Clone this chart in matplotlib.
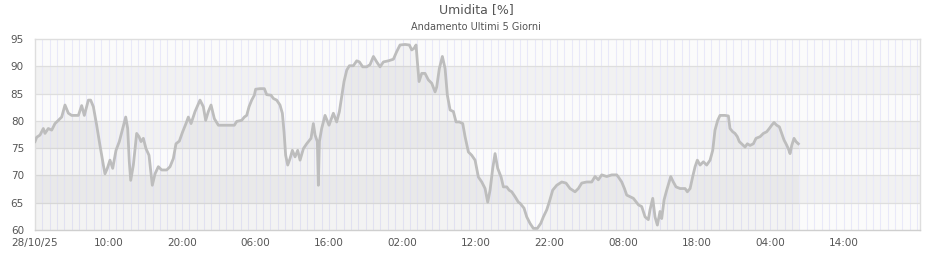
"""
Umidita [%] - andamento ultimi 5 giorni
"""

import numpy as np
import matplotlib.pyplot as plt

# hours since 28/10/25 00:00 and humidity readings
hours = [0, 0.23, 0.68, 1.13, 1.36, 1.81, 2.27, 2.72, 3.17, 3.63, 4.08, 4.54, 4.99, 5.9,
         6.35, 6.71, 7.26, 7.57, 7.94, 8.39, 8.84, 9.3, 9.52, 9.84, 10.2, 10.57, 11.02,
         11.47, 11.93, 12.34, 12.61, 12.83, 13.02, 13.38, 13.83, 14.15, 14.42, 14.74,
         15.1, 15.51, 15.96, 16.33, 16.78, 17.23, 17.91, 18.37, 18.82, 19.18, 19.64,
         20.09, 20.54, 20.86, 21.23, 21.77, 22.45, 22.9, 23.22, 23.58, 23.95, 24.4,
         24.95, 26.08, 27.12, 27.44, 28.12, 28.48, 28.8, 29.12, 29.48, 29.84, 30.02,
         30.61, 31.2, 31.52, 32.11, 32.43, 32.88, 33.33, 33.65, 33.88, 34.1, 34.38,
         34.7, 35.01, 35.38, 35.74, 36.06, 36.51, 36.96, 37.55, 37.87, 38.1, 38.41,
         38.55, 38.69, 39.0, 39.46, 40.0, 40.59, 41.04, 41.41, 41.72, 42.04, 42.41,
         42.77, 43.31, 43.77, 44.13, 44.58, 45.13, 45.58, 46.04, 46.49, 46.94, 47.4,
         48.08, 48.76, 49.21, 49.66, 50.34, 50.93, 51.25, 51.57, 51.84, 52.02, 52.25,
         52.61, 53.06, 53.52, 53.97, 54.43, 54.65, 55.01, 55.42, 55.79, 56.1, 56.47,
         56.92, 57.28, 57.74, 58.19, 58.51, 58.96, 59.41, 59.87, 60.32, 60.78, 61.23,
         61.59, 61.91, 62.27, 62.59, 62.95, 63.41, 63.72, 64.18, 64.5, 64.86, 65.31,
         65.76, 65.99, 66.53, 66.9, 67.35, 67.8, 68.34, 68.8, 69.16, 69.62, 69.98,
         70.43, 70.98, 71.66, 72.24, 72.79, 73.47, 73.92, 74.38, 75.06, 75.74, 76.19,
         76.64, 77.1, 77.78, 78.46, 79.14, 79.37, 79.82, 80.19, 80.5, 80.96, 81.41,
         82.1, 82.54, 83.0, 83.44, 83.67, 84.04, 84.35, 84.67, 85.03, 85.26, 85.58,
         85.94, 86.49, 86.84, 87.21, 87.76, 88.44, 88.75, 89.12, 89.48, 89.8, 90.11,
         90.48, 90.93, 91.38, 91.84, 92.2, 92.51, 92.88, 93.19, 93.87, 94.33, 94.55,
         94.92, 95.23, 95.55, 95.82, 96.14, 96.6, 96.91, 97.28, 97.73, 98.09, 98.64,
         99.09, 99.54, 99.9, 100.22, 100.54, 100.9, 101.27, 101.58, 101.9, 102.17,
         102.49, 102.72, 102.95, 103.26, 103.53, 103.85]
umidita = [76.2, 77.0, 77.4, 78.6, 77.7, 78.6, 78.3, 79.5, 80.1, 80.7, 82.9, 81.4, 81.0, 81.0,
           82.8, 81.0, 83.8, 83.8, 82.6, 79.2, 75.5, 71.9, 70.3, 71.3, 72.8, 71.3, 74.6,
           76.2, 78.6, 80.7, 78.6, 72.5, 69.1, 71.9, 77.7, 77.1, 76.2, 76.8,
           74.9, 73.7, 68.2, 70.3, 71.6, 71.0, 71.0, 71.6, 73.1, 75.8, 76.3,
           78.0, 79.5, 80.7, 79.5, 81.7, 83.8, 82.6, 80.1, 81.7, 82.9, 80.4,
           79.2, 79.2, 79.2, 79.9, 80.1, 80.7, 81.0, 82.6, 83.8, 84.7, 85.8,
           85.9, 85.9, 84.8, 84.7, 84.1, 83.8, 82.9, 81.4, 78.0, 73.7, 71.9,
           73.1, 74.6, 73.4, 74.6, 72.8, 74.9, 75.8, 76.8, 79.5, 77.4, 76.2,
           68.2, 76.2, 78.6, 81.0, 79.2, 81.4, 79.8, 81.7, 84.4, 87.2, 89.3,
           90.1, 90.1, 91.0, 90.8, 89.9, 89.9, 90.3, 91.8, 90.8, 89.9, 90.8,
           91.0, 91.3, 92.7, 93.9, 94.0, 93.9, 93.0, 93.3, 93.9, 90.8, 87.2,
           88.7, 88.7, 87.5, 86.9, 85.3, 86.2, 89.6, 91.8, 89.6, 84.7, 82.0,
           81.7, 79.8, 79.8, 79.5, 77.1, 74.3, 73.7, 72.8, 69.7, 68.8, 67.6,
           65.1, 67.3, 71.3, 74.0, 71.3, 69.7, 67.9, 67.9, 67.3, 67.0, 66.1,
           65.1, 64.9, 64.0, 62.4, 61.2, 60.3, 60.3, 61.2, 62.4, 63.7, 65.2,
           67.3, 68.2, 68.8, 68.6, 67.6, 67.0, 67.6, 68.6, 68.8, 68.8, 69.8,
           69.2, 70.1, 69.8, 70.1, 70.1, 69.7, 68.8, 67.6, 66.4, 66.1, 65.8,
           64.6, 64.3, 62.4, 61.9, 63.7, 65.8, 62.4, 60.9, 63.4, 62.1, 65.5,
           67.3, 69.8, 68.8, 67.9, 67.6, 67.6, 67.0, 67.6, 69.8, 71.6, 72.8,
           71.9, 72.5, 71.9, 72.8, 74.6, 78.3, 80.1, 81.0, 81.0, 80.9, 78.6,
           78.0, 77.7, 77.1, 76.2, 75.8, 75.2, 75.8, 75.5, 75.8, 76.8, 77.1,
           77.7, 78.0, 78.6, 79.2, 79.7, 79.2, 78.9, 77.7, 76.5, 75.8,
           74.9, 74.0, 75.5, 76.8, 76.2, 75.8]

xticks = [0, 10, 20, 30, 40, 50, 60, 70, 80, 90, 100, 110]
xlabels = ["28/10/25", "10:00", "20:00", "06:00", "16:00", "02:00", "12:00",
           "22:00", "08:00", "18:00", "04:00", "14:00"]
yticks = [60, 65, 70, 75, 80, 85, 90, 95]

fig = plt.figure(figsize=(9.4, 2.6), dpi=100)
ax = fig.add_axes([35 / 940, 1 - 230 / 260, 885 / 940, 191 / 260])

ax.set_xlim(0, 120.4)
ax.set_ylim(60, 95)

# alternating bands
for i, lo in enumerate(yticks[:-1]):
    col = "#f1f1f1" if i % 2 == 1 else "#fbfbfb"
    ax.axhspan(lo, lo + 5, color=col, lw=0, zorder=0)

# hourly vertical grid
for h in np.arange(1, 121):
    ax.axvline(h, color="#e9e9f9", lw=0.8, zorder=1)
for y in yticks[1:-1]:
    ax.axhline(y, color="#dedede", lw=0.9, zorder=1)

ax.fill_between(hours, umidita, 60, color="black", alpha=0.03, lw=0, zorder=2)
ax.plot(hours, umidita, color="#bdbdbd", lw=2.0, zorder=3)

for s in ax.spines.values():
    s.set_color("#dedede")
    s.set_linewidth(1)
ax.spines["bottom"].set_color("#cfcfcf")

ax.set_xticks(xticks)
ax.set_xticklabels(xlabels)
ax.set_yticks(yticks)
ax.tick_params(length=0, labelsize=7.5, colors="#555555", pad=6)
ax.tick_params(axis="y", pad=8)

fig.text(476 / 940, 1 - 10 / 260, "Umidita [%]", ha="center", va="center",
         fontsize=9, color="#555555")
fig.text(476 / 940, 1 - 27 / 260, "Andamento Ultimi 5 Giorni", ha="center",
         va="center", fontsize=7, color="#555555")

fig.savefig("out.png", dpi=100)
